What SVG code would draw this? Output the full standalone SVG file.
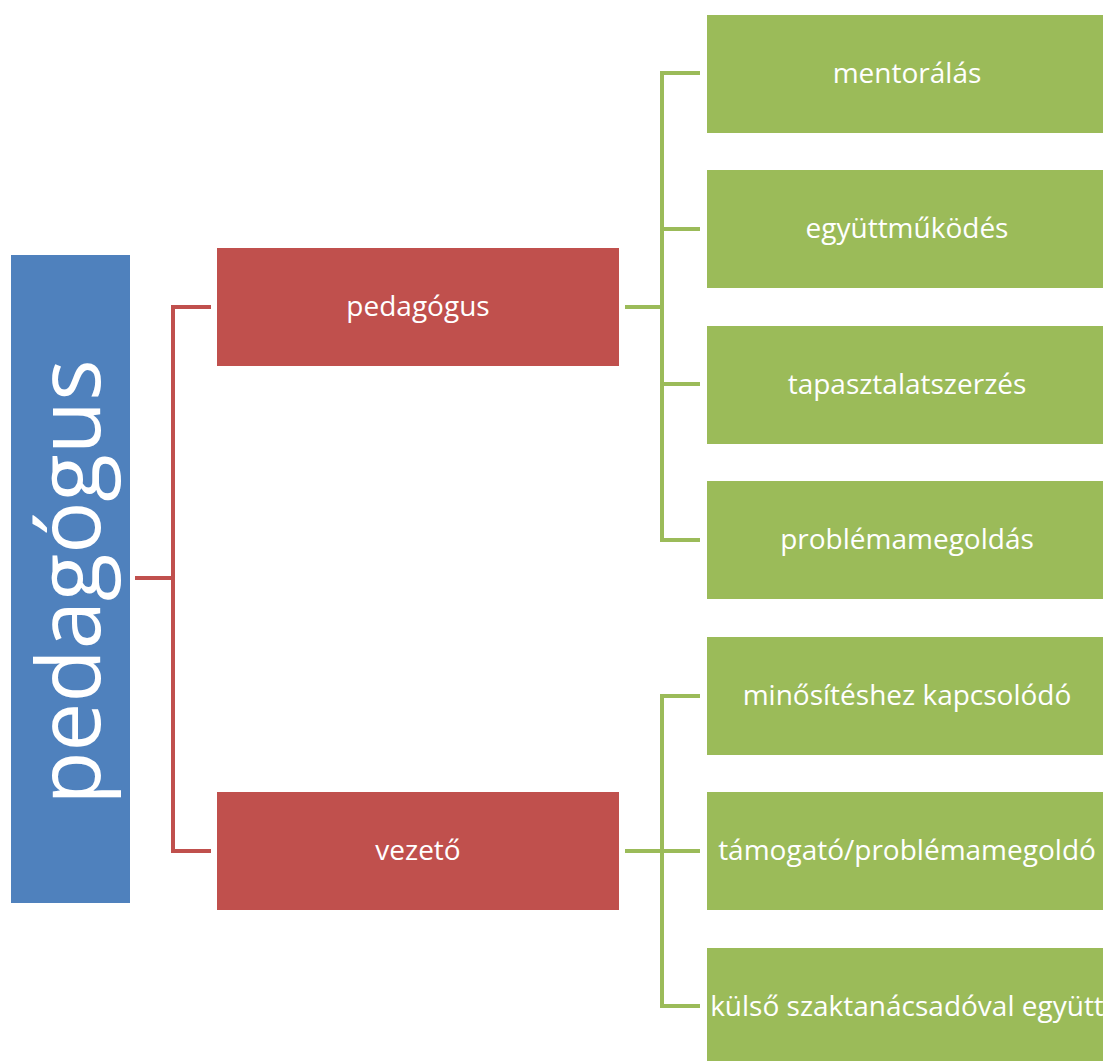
<svg xmlns="http://www.w3.org/2000/svg" width="1103" height="1061" viewBox="0 0 1103 1061">
<style>
.blue{fill:#4F81BD}
.red{fill:#C0504D}
.green{fill:#9BBB59}
.lbl{font-family:"Open Sans",Lato,"Liberation Sans",sans-serif;font-size:28px;fill:#fff;text-anchor:middle}
.big{font-family:"Open Sans",Lato,"Liberation Sans",sans-serif;font-size:87px;fill:#fff;text-anchor:middle}
.cr{fill:none;stroke:#C0504D;stroke-width:4}
.cg{fill:none;stroke:#9BBB59;stroke-width:4}
</style>
<rect width="1103" height="1061" fill="#fff"/>
<g id="connectors">
<path class="cr" d="M135 578H173M211 307H173V851H211"/>
<path class="cg" d="M625 307H662M700 73H662V540H700M662 229H700M662 384H700"/>
<path class="cg" d="M625 851H662M700 696H662V1006H700M662 851H700"/>
</g>
<g id="root"><rect class="blue" x="11" y="255" width="119" height="648"/><text class="big" transform="translate(100 582) rotate(-90)">pedagógus</text></g>
<g id="n-pedagogus"><rect class="red" x="217" y="248" width="402" height="118"/><text class="lbl" x="418" y="316">pedagógus</text></g>
<g id="n-vezeto"><rect class="red" x="217" y="792" width="402" height="118"/><text class="lbl" x="418" y="860">vezető</text></g>
<g id="g1"><rect class="green" x="707" y="15" width="400" height="118"/><text class="lbl" x="907" y="83">mentorálás</text></g>
<g id="g2"><rect class="green" x="707" y="170" width="400" height="118"/><text class="lbl" x="907" y="238">együttműködés</text></g>
<g id="g3"><rect class="green" x="707" y="326" width="400" height="118"/><text class="lbl" x="907" y="394">tapasztalatszerzés</text></g>
<g id="g4"><rect class="green" x="707" y="481" width="400" height="118"/><text class="lbl" x="907" y="549">problémamegoldás</text></g>
<g id="g5"><rect class="green" x="707" y="637" width="400" height="118"/><text class="lbl" x="907" y="705">minősítéshez kapcsolódó</text></g>
<g id="g6"><rect class="green" x="707" y="792" width="400" height="118"/><text class="lbl" x="907" y="860">támogató/problémamegoldó</text></g>
<g id="g7"><rect class="green" x="707" y="948" width="400" height="118"/><text class="lbl" x="907" y="1016">külső szaktanácsadóval együtt</text></g>
</svg>
